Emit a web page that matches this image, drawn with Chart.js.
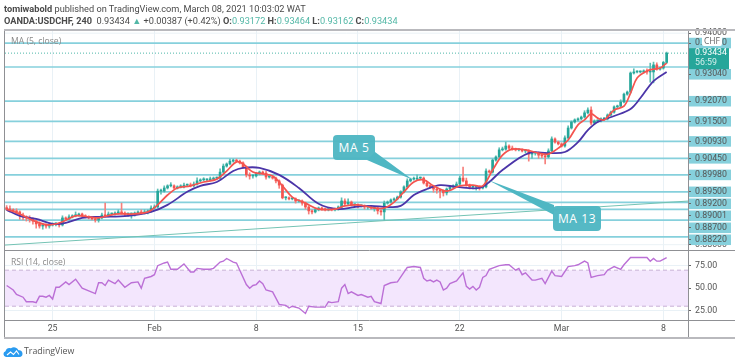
<!DOCTYPE html>
<html>
<head>
<meta charset="utf-8">
<script src="https://cdn.jsdelivr.net/npm/chart.js@4/dist/chart.umd.js"></script>
<style>
html,body{margin:0;padding:0;background:#fff}
#wrap{position:relative;width:740px;height:364px;overflow:hidden;font-family:"Open Sans",sans-serif;color:#4a4a4a;filter:blur(.3px)}
canvas{position:absolute;left:0;top:0}
.t{position:absolute;white-space:nowrap;line-height:1}
.h{font-family:Roboto,sans-serif}
.v{color:#52b7a6}
.b{font-weight:700}
.call{position:absolute;background:#4fb7c3;border-radius:4px;color:#fff;display:flex;align-items:center;justify-content:center;font:12px "Open Sans",sans-serif;letter-spacing:.6px;opacity:.96}
svg{position:absolute;left:0;top:0}
</style>
</head>
<body>
<div id="wrap">
<canvas id="c" width="740" height="364"></canvas>
<svg width="740" height="364"><polygon points="375,152 413,180 367,160" fill="#4fb7c3"/><polygon points="488,180 554,205 554,215" fill="#4fb7c3"/></svg>
<div class="call" style="left:333px;top:135px;width:42px;height:25px">MA 5</div>
<div class="call" style="left:553px;top:206px;width:48px;height:25px">MA 13</div>
<div class="t h" style="left:4px;top:4px;font-size:9.2px"><span class="b">tomiwabold</span> published on TradingView.com, March 08, 2021 10:03:02 WAT</div>
<div class="t h" style="left:4px;top:16px;font-size:9.2px"><span class="b">OANDA:USDCHF, 240</span>&nbsp; 0.93434 <span class="v">▲</span> +0.00387 (+0.42%) <span class="b">O:</span><span class="v">0.93172</span> <span class="b">H:</span><span class="v">0.93464</span> <span class="b">L:</span><span class="v">0.93162</span> <span class="b">C:</span><span class="v">0.93434</span></div>
<div class="t" style="left:11px;top:37px;font-size:8.6px;color:#8a8a8a">MA (5, close)</div>
<div class="t" style="left:11px;top:258px;font-size:8.6px;color:#8a8a8a">RSI (14, close)</div>
<div class="t" style="left:702px;top:35px;width:20px;height:11px;background:#fff;border-radius:2px;font-size:8.5px;line-height:11px;text-align:center;color:#666">CHF</div>
<svg width="20" height="12" style="left:3px;top:346px"><path d="M3 11 a3 3 0 0 1 -.5-5.8 A4.5 4.5 0 0 1 8 2.2 a5 5 0 0 1 7.5 2 a3.4 3.4 0 0 1 1 6.8z" fill="#2a9bf0"/><path d="M4 9l3.5-3 3 2.5 3-3.5 2.5 3.5" stroke="#fff" stroke-width="1.1" fill="none"/></svg>
<div class="t" style="left:24px;top:347px;font-size:8.8px;color:#555">TradingView</div>
</div>
<script>
// Closing prices, one per 240-minute bar
const closes = [
.8901,.8899,.8896,.8893,.8884,.8879,.8876,.8873,.8867,.8859,.8853,.8856,.8853,.8856,.8859,
.8859,.8856,.8876,.8873,.8879,.8882,.8884,.8887,.8882,.8879,.8876,.8873,.8870,.8876,.8884,
.8882,.8887,.8887,.8890,.8893,.8890,.8887,.8887,.8887,.8890,.8893,.8890,.8893,.8896,.8904,.8907,
.8952,.8952,.8961,.8967,.8967,.8961,.8964,.8964,.8969,.8969,.8967,.8972,.8981,.8984,.8984,.8984,.8986,.8989,.8989,.9006,.9023,.9029,.9037,.9040,.9037,.9032,.9020,.8998,.8995,.8995,
.9001,.9006,.9003,.8992,.8992,.8989,.8981,.8969,.8933,.8933,.8930,.8930,.8924,.8924,.8918,.8907,.8896,.8893,.8899,.8904,.8901,.8899,.8901,.8899,.8901,.8907,
.8924,.8916,.8921,.8913,.8913,.8910,.8910,.8907,.8907,.8904,.8904,.8896,.8893,
.8918,.8921,.8927,.8930,.8935,.8950,.8964,.8981,.8986,.8986,.8989,.8989,.8975,.8967,.8964,.8958,.8955,.8952,.8947,.8958,.8964,.8967,.8972,
.8989,.8981,.8969,.8964,.8964,.8964,.8961,.8964,.9009,.9006,.9040,.9049,.9069,.9071,.9080,.9074,.9071,.9069,.9069,.9066,.9066,.9057,.9060,.9060,.9054,.9052,.9049,
.9066,.9100,.9091,.9086,.9080,.9103,.9131,.9148,.9154,.9157,.9162,.9174,.9182,
.9145,.9151,.9151,.9157,.9157,.9168,.9176,.9191,.9193,.9205,.9227,.9233,
.9287,.9290,.9290,.9290,.9293,.9290,.9290,.9310,.9298,.9301,.9317,.93434];
const firstOpen = .8905;
// Wick lengths above and below each candle body, in 0.0001 price units
const upperWicks = [
6,9,3,6,3,6,3,6,3,3,6,3,3,3,3,
3,3,6,3,6,3,9,3,3,3,3,3,3,3,6,
34,6,3,3,6,25,3,3,3,3,3,6,6,3,6,6,
6,6,6,3,9,3,3,6,6,3,6,6,9,3,6,3,6,3,3,9,6,3,6,3,3,3,3,3,6,3,
3,3,3,6,3,3,3,3,3,3,3,3,3,3,3,3,3,3,3,3,3,3,3,3,3,3,
9,6,9,3,3,3,3,3,3,3,3,3,3,
6,3,3,3,3,3,3,6,3,6,9,3,3,3,3,3,3,3,3,3,3,3,6,
6,31,8,3,3,3,3,3,6,3,3,3,6,6,11,3,6,3,3,3,3,3,3,3,3,3,3,
6,6,3,3,3,6,6,3,3,3,3,6,6,
9,3,3,3,3,3,3,3,3,6,3,3,
3,9,3,3,3,6,25,8,6,3,3,3];
const lowerWicks = [
3,6,3,6,12,9,9,9,9,12,6,9,6,6,3,
6,6,3,3,3,3,3,3,3,3,3,3,6,6,3,
3,3,3,3,3,3,6,6,12,6,3,3,3,6,3,3,
3,9,3,3,3,3,3,3,3,3,3,3,3,3,3,3,3,3,3,3,3,3,3,3,3,3,3,6,9,6,
3,3,3,6,3,3,6,9,3,6,3,3,6,3,6,6,9,6,3,3,3,3,3,3,3,3,
3,3,3,3,3,6,3,6,6,3,9,9,9,
23,3,3,3,3,3,3,3,3,3,3,3,3,3,3,9,9,19,9,6,3,3,3,
3,3,3,6,6,9,6,3,3,3,3,3,3,3,3,3,3,3,3,3,6,20,12,6,9,6,20,
3,3,3,3,3,3,3,3,3,3,3,3,3,
5,3,3,3,3,3,3,3,3,3,3,3,
3,3,3,3,3,6,29,31,3,3,3,3];
// Moving averages: bar number and value, read at the bends of each line
const ma5Bars = [0,4,9,13,17,21,25,28,33,38,43,46,49,52,56,60,64,67,70,72,75,78,81,84,87,91,95,100,103,107,112,115,118,121,124,127,130,134,138,142,145,148,151,154,158,162,165,168,171,174,176,178,180,182,185,188,190,192,195,197,199,201];
const ma5Values = [.8901,.8887,.8865,.8856,.8865,.8882,.8879,.8876,.8887,.8887,.8893,.8913,.8941,.8961,.8967,.8978,.8986,.9009,.9035,.9029,.9006,.9001,.8995,.8967,.8935,.8918,.8901,.8901,.8910,.8913,.8904,.8904,.8921,.8950,.8978,.8984,.8967,.8952,.8967,.8969,.8967,.9012,.9054,.9071,.9069,.9060,.9057,.9074,.9097,.9140,.9154,.9171,.9159,.9154,.9182,.9193,.9230,.9273,.9293,.9298,.9301,.9315];
const ma13Bars = [0,4,9,14,18,23,28,37,44,49,55,59,64,69,72,77,83,89,95,101,106,111,116,120,124,128,132,137,144,147,151,159,165,170,174,177,180,185,190,193,197,201];
const ma13Values = [.8899,.8882,.8873,.8859,.8862,.8876,.8879,.8882,.8893,.8913,.8950,.8967,.8978,.9009,.9018,.9018,.8998,.8961,.8916,.8901,.8907,.8910,.8907,.8910,.8941,.8958,.8969,.8964,.8961,.8978,.9012,.9060,.9060,.9063,.9091,.9125,.9148,.9165,.9185,.9216,.9264,.9290];
// RSI (14): bar number and value
const rsiBars = [0,2,3,5,6,8,9,10,11,12,13,14,15,16,18,19,21,23,25,27,28,29,30,31,33,34,36,38,40,41,42,44,45,46,48,49,50,52,54,56,57,58,60,62,63,65,66,67,69,70,71,73,74,75,76,77,78,79,81,83,85,86,87,89,91,92,94,97,98,99,101,102,103,104,105,107,108,110,111,112,114,115,117,119,122,124,126,127,128,129,130,131,132,133,134,135,137,139,140,141,142,143,144,145,146,147,150,152,153,155,156,157,158,160,161,163,164,166,167,169,171,173,174,176,177,178,180,182,183,185,187,188,190,195,196,197,198,199,201];
const rsiValues = [53,48,43,40,35,35,34,41,41,40,42,38,51,51,57,54,60,50,47,44,56,56,53,59,55,59,51,56,57,50,61,63,65,75,78,79,71,71,77,68,68,72,71,71,72,79,80,83,79,78,70,54,50,53,54,58,55,48,46,32,31,28,30,28,22,30,29,29,35,34,35,50,54,44,46,42,43,40,41,35,33,53,56,57,73,74,73,61,58,59,57,59,57,48,50,55,58,67,52,49,52,48,51,62,64,71,75,76,76,70,72,65,67,59,59,61,55,69,64,63,74,75,76,80,78,62,64,65,70,74,71,76,84,84,80,83,80,80,84];
// Horizontal levels drawn on the chart, and the axis labels
const levels = [.9372,.9304,.9207,.9150,.9093,.9045,.8998,.8950,.8920,.89001,.8870,.8822];
const plainTicks = [.94,.88];
const trendPrices = [.8799,.89238];
const rsiBand = [70,30];
const rsiTicks = [75,50,25];
const weekBars = [14,45,76,107,138,169,200];
const weekLabels = ['25','Feb','8','15','22','Mar','8'];
const countdown = '56:59';

const lastClose = closes[closes.length-1];
const opens = closes.map((c,i)=> i ? closes[i-1] : firstOpen);
const highs = closes.map((c,i)=> Math.max(c,opens[i]) + upperWicks[i]/1e4);
const lows  = closes.map((c,i)=> Math.min(c,opens[i]) - lowerWicks[i]/1e4);
const UP='#26a69a', DOWN='#f4544f';
const xMin=-0.5, xMax=207.5;
const span = v => [{x:xMin,y:v},{x:xMax,y:v}];
const pairs = (xs,ys) => xs.map((x,i)=>({x,y:ys[i]}));
const colors = closes.map((c,i)=> c>=opens[i]?UP:DOWN);
const colorsSoft = closes.map((c,i)=> c>=opens[i]?'#5cbfb4':'#f7807c');

// Axis labels slide down when they would overlap the price badge or each other
const labelGap=.0034, badgeGap=.0060;
const slid=[]; let floor=Infinity;
levels.forEach(v=>{ let t=Math.min(v,floor); if(t<lastClose && t>lastClose-badgeGap) t=lastClose-badgeGap; slid.push(t); floor=t-labelGap; });
const priceTickValues=[...plainTicks,...slid];
const priceTickLabels=[...plainTicks,...levels].map(v=>v.toFixed(5));

const lineBase={type:'line',pointRadius:0,fill:false,tension:0};
const datasets=[
 ...plainTicks.map(v=>({...lineBase,data:span(v),borderColor:'#eaf2f6',borderWidth:1,order:70})),
 ...levels.map(v=>({...lineBase,data:span(v),borderColor:'#86d0dc',borderWidth:1.7,order:50})),
 {...lineBase,data:[{x:xMin,y:trendPrices[0]},{x:xMax,y:trendPrices[1]}],borderColor:'#74c3b4',borderWidth:1,order:45},
 {...lineBase,data:span(lastClose),borderColor:'#4db6a8',borderWidth:1,borderDash:[1,2],order:44},
 {type:'bar',grouped:false,data:closes.map((c,i)=>({x:i,y:[lows[i],highs[i]]})),backgroundColor:colorsSoft,barThickness:1,borderWidth:0,order:40},
 {type:'bar',grouped:false,data:closes.map((c,i)=>({x:i,y:[Math.min(c,opens[i]),Math.max(c,opens[i])]})),backgroundColor:colors,barThickness:2,minBarLength:1,borderWidth:0,order:30},
 {...lineBase,data:pairs(ma13Bars,ma13Values),borderColor:'#4b35a8',borderWidth:1.8,tension:.35,order:21},
 {...lineBase,data:pairs(ma5Bars,ma5Values),borderColor:'#f4544f',borderWidth:1.7,tension:.35,order:20},
 {...lineBase,yAxisID:'yRsi',data:span(rsiBand[0]),borderColor:'#c9b2d6',borderWidth:1,borderDash:[4,3],fill:{target:{value:rsiBand[1]}},backgroundColor:'#f3e6fd',order:60},
 {...lineBase,yAxisID:'yRsi',data:span(rsiBand[1]),borderColor:'#c9b2d6',borderWidth:1,borderDash:[4,3],order:59},
 {...lineBase,yAxisID:'yRsi',data:pairs(rsiBars,rsiValues),borderColor:'#bb6fd6',borderWidth:1.4,order:10}
];
const tickFont={family:'Roboto',size:8.8};
const frame={id:'frame',afterDraw(ch){
 const c=ch.ctx,a=ch.chartArea,p=ch.scales.y,r=ch.scales.yRsi;
 // current price badge
 const y=p.getPixelForValue(lastClose);
 c.save();
 c.fillStyle='#26a69a';c.fillRect(a.right,y-5,41,21);
 c.font='8.8px Roboto';c.textBaseline='middle';c.textAlign='left';
 c.fillStyle='#fff';c.fillText(lastClose.toFixed(5),695,y);
 c.fillStyle='#d3efec';c.fillText(countdown,695,y+10);
 // pane frame
 c.strokeStyle='#8f9094';c.lineWidth=1;
 const R=a.right+47,B=a.bottom+18;
 c.beginPath();
 c.moveTo(4.5,a.top);c.lineTo(4.5,B);
 c.moveTo(a.right+.5,a.top);c.lineTo(a.right+.5,B);
 c.moveTo(4,r.top+.5);c.lineTo(R,r.top+.5);
 c.moveTo(4,a.bottom+.5);c.lineTo(R,a.bottom+.5);
 c.stroke();
 c.strokeStyle='#b9b9bd';c.lineWidth=2;
 c.beginPath();c.moveTo(4,a.top);c.lineTo(R,a.top);c.moveTo(4,B);c.lineTo(R,B);c.stroke();
 c.restore();
}};
new Chart(document.getElementById('c'),{
 type:'bar',
 data:{datasets},
 plugins:[frame],
 options:{
  responsive:false,animation:false,
  layout:{padding:{left:5,right:5,top:30,bottom:26}},
  plugins:{legend:{display:false},tooltip:{enabled:false}},
  scales:{
   x:{type:'linear',min:xMin,max:xMax,offset:false,
      afterBuildTicks(s){s.ticks=weekBars.map(value=>({value}));},
      afterFit(s){s.height=18;},
      grid:{offset:false,color:'#e9f1f6',drawTicks:false},border:{display:false},
      ticks:{autoSkip:false,maxRotation:0,padding:4,color:'#555',font:tickFont,callback:(v,i)=>weekLabels[i]}},
   y:{type:'linear',position:'right',stack:'panes',stackWeight:220,min:.8785,max:.9409,
      afterBuildTicks(s){s.ticks=priceTickValues.map(value=>({value}));},
      afterFit(s){s.width=47;},
      grid:{drawOnChartArea:false,drawTicks:true,tickLength:3,tickColor:'#666',z:1},border:{display:false},
      ticks:{z:0,autoSkip:false,padding:4,color:'#555',font:tickFont,
        callback:(v,i)=>priceTickLabels[i],
        showLabelBackdrop:ctx=>ctx.index>=plainTicks.length,
        backdropColor:'#86d0dc',backdropPadding:{left:7,right:4,top:0,bottom:0}}},
   yRsi:{type:'linear',position:'right',stack:'panes',stackWeight:70,min:14.7,max:92.4,
      afterBuildTicks(s){s.ticks=rsiTicks.map(value=>({value}));},
      afterFit(s){s.width=47;},
      grid:{color:'#e9f1f6',tickLength:3,tickColor:'#666'},border:{display:false},
      ticks:{autoSkip:false,padding:4,color:'#555',font:tickFont,callback:v=>v.toFixed(2)}}
  }
 }
});
</script>
</body>
</html>
